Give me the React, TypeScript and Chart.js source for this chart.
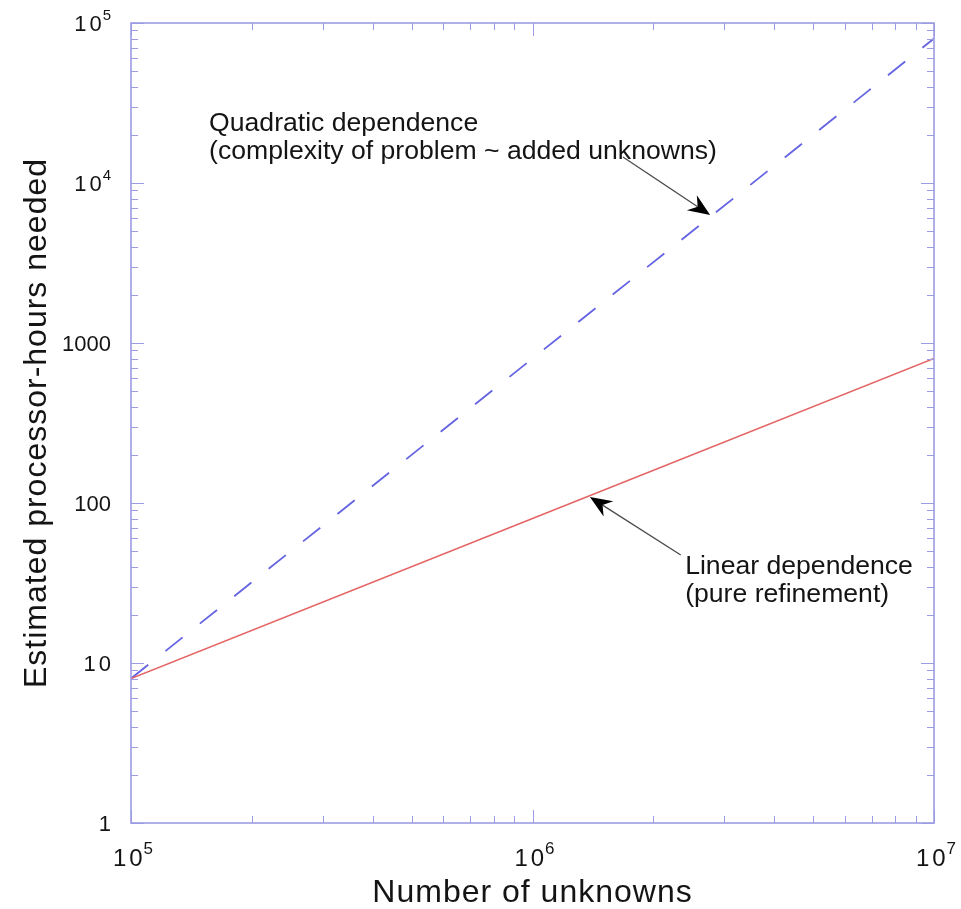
import React, { useEffect, useRef } from 'react';
import { Chart, registerables } from 'chart.js';

Chart.register(...registerables);

// ---- data ----
const unknowns = [1e5, 1e6, 1e7];
const linearHours = [8, 80, 800];
const quadraticHours = [8, 800, 80000];

const xMajorTicks = [1e5, 1e6, 1e7];
const xTickBase = ['10', '10', '10'];
const xTickSup = ['5', '6', '7'];
const yMajorTicks = [1, 10, 100, 1000, 1e4, 1e5];
const yTickBase = ['1', '10', '100', '1000', '10', '10'];
const yTickSup = ['', '', '', '', '4', '5'];

const xTitle = 'Number of unknowns';
const yTitle = 'Estimated processor-hours needed';

const quadLabelLines = ['Quadratic dependence', '(complexity of problem ~ added unknowns)'];
const quadLabelAt = [1.565e5, 21000];
const quadArrowFrom = [1.68e6, 14540];
const quadArrowTo = [2.77e6, 6310];

const linLabelLines = ['Linear dependence', '(pure refinement)'];
const linLabelAt = [2.4e6, 36];
const linArrowFrom = [2.34e6, 47.3];
const linArrowTo = [1.39e6, 109];

// ---- styles ----
const FONT = '"Liberation Sans", Arial, Helvetica, sans-serif';
const AXIS_COLOR = '#9c9ce4';
const TEXT_COLOR = '#141414';

function minorOf(majors: number[]) {
  const out: number[] = [];
  for (let i = 0; i < majors.length - 1; i++) {
    for (let m = 2; m <= 9; m++) out.push(majors[i] * m);
  }
  return out;
}

function drawLabel(ctx: any, base: string, sup: string, x: number, y: number, align: 'right' | 'center', size: number) {
  ctx.save();
  ctx.fillStyle = TEXT_COLOR;
  ctx.textBaseline = 'alphabetic';
  ctx.textAlign = 'left';
  const spacing = base === '10' ? 3 : 0;
  ctx.font = `${size}px ${FONT}`;
  (ctx as any).letterSpacing = spacing + 'px';
  const bw = ctx.measureText(base).width - spacing;
  const supSize = Math.round(size * 0.7);
  ctx.font = `${supSize}px ${FONT}`;
  (ctx as any).letterSpacing = '0px';
  const sw = sup ? ctx.measureText(sup).width + 1 : 0;
  const total = bw + sw;
  const x0 = align === 'right' ? x - total : x - total / 2;
  ctx.font = `${size}px ${FONT}`;
  (ctx as any).letterSpacing = spacing + 'px';
  ctx.fillText(base, x0, y);
  if (sup) {
    ctx.font = `${supSize}px ${FONT}`;
    (ctx as any).letterSpacing = '0px';
    ctx.fillText(sup, x0 + bw + 1, y - size * 0.52);
  }
  ctx.restore();
}

function drawArrow(ctx: any, x1: number, y1: number, x2: number, y2: number) {
  const dx = x2 - x1, dy = y2 - y1;
  const len = Math.hypot(dx, dy);
  const ux = dx / len, uy = dy / len;
  const nx = -uy, ny = ux;
  const L = 22, W = 9, notch = 7;
  ctx.save();
  ctx.strokeStyle = '#4a4a4a';
  ctx.lineWidth = 1.3;
  ctx.beginPath();
  ctx.moveTo(x1, y1);
  ctx.lineTo(x2 - ux * (L - notch), y2 - uy * (L - notch));
  ctx.stroke();
  ctx.fillStyle = '#000';
  ctx.beginPath();
  ctx.moveTo(x2, y2);
  ctx.lineTo(x2 - ux * L + nx * W, y2 - uy * L + ny * W);
  ctx.lineTo(x2 - ux * (L - notch), y2 - uy * (L - notch));
  ctx.lineTo(x2 - ux * L - nx * W, y2 - uy * L - ny * W);
  ctx.closePath();
  ctx.fill();
  ctx.restore();
}

const decorPlugin = {
  id: 'decor',
  afterDatasetsDraw(chart: any) {
    const { ctx, chartArea: a, scales } = chart;
    const xs = scales.x, ys = scales.y;
    const MAJ = 13, MIN = 7;
    ctx.save();
    ctx.strokeStyle = AXIS_COLOR;
    ctx.lineWidth = 1;
    const seg = (x1: number, y1: number, x2: number, y2: number) => {
      ctx.beginPath(); ctx.moveTo(x1, y1); ctx.lineTo(x2, y2); ctx.stroke();
    };
    xMajorTicks.forEach(v => {
      const p = Math.round(xs.getPixelForValue(v)) + 0.5;
      seg(p, a.bottom, p, a.bottom - MAJ); seg(p, a.top, p, a.top + MAJ);
    });
    minorOf(xMajorTicks).forEach(v => {
      const p = Math.round(xs.getPixelForValue(v)) + 0.5;
      seg(p, a.bottom, p, a.bottom - MIN); seg(p, a.top, p, a.top + MIN);
    });
    yMajorTicks.forEach(v => {
      const p = Math.round(ys.getPixelForValue(v)) + 0.5;
      seg(a.left, p, a.left + MAJ, p); seg(a.right, p, a.right - MAJ, p);
    });
    minorOf(yMajorTicks).forEach(v => {
      const p = Math.round(ys.getPixelForValue(v)) + 0.5;
      seg(a.left, p, a.left + MIN, p); seg(a.right, p, a.right - MIN, p);
    });
    ctx.lineWidth = 1.6;
    ctx.strokeRect(a.left, a.top, a.right - a.left, a.bottom - a.top);
    ctx.restore();
  },
  afterDraw(chart: any) {
    const { ctx, chartArea: a, scales } = chart;
    const xs = scales.x, ys = scales.y;
    // tick labels
    yMajorTicks.forEach((v, i) => {
      const p = ys.getPixelForValue(v);
      drawLabel(ctx, yTickBase[i], yTickSup[i], a.left - 20, p + 8, 'right', 22);
    });
    xMajorTicks.forEach((v, i) => {
      const p = xs.getPixelForValue(v);
      drawLabel(ctx, xTickBase[i], xTickSup[i], p + 2, a.bottom + 43, 'center', 24);
    });
    // axis titles
    ctx.save();
    ctx.fillStyle = TEXT_COLOR;
    ctx.font = `32px ${FONT}`;
    (ctx as any).letterSpacing = '1px';
    ctx.textAlign = 'center';
    ctx.textBaseline = 'alphabetic';
    ctx.fillText(xTitle, (a.left + a.right) / 2, a.bottom + 79);
    ctx.translate(46, (a.top + a.bottom) / 2);
    ctx.rotate(-Math.PI / 2);
    ctx.fillText(yTitle, 0, 0);
    ctx.restore();
    // annotations
    ctx.save();
    ctx.fillStyle = TEXT_COLOR;
    ctx.font = `26.6px ${FONT}`;
    ctx.textAlign = 'left';
    ctx.textBaseline = 'alphabetic';
    const qx = xs.getPixelForValue(quadLabelAt[0]), qy = ys.getPixelForValue(quadLabelAt[1]);
    quadLabelLines.forEach((t, i) => ctx.fillText(t, qx, qy + i * 28));
    const lx = xs.getPixelForValue(linLabelAt[0]), ly = ys.getPixelForValue(linLabelAt[1]);
    linLabelLines.forEach((t, i) => ctx.fillText(t, lx, ly + i * 28));
    ctx.restore();
    drawArrow(ctx,
      xs.getPixelForValue(quadArrowFrom[0]), ys.getPixelForValue(quadArrowFrom[1]),
      xs.getPixelForValue(quadArrowTo[0]), ys.getPixelForValue(quadArrowTo[1]));
    drawArrow(ctx,
      xs.getPixelForValue(linArrowFrom[0]), ys.getPixelForValue(linArrowFrom[1]),
      xs.getPixelForValue(linArrowTo[0]), ys.getPixelForValue(linArrowTo[1]));
  },
};

export default function App() {
  const ref = useRef<HTMLCanvasElement | null>(null);
  useEffect(() => {
    if (!ref.current) return;
    const chart = new Chart(ref.current, {
      type: 'line',
      data: {
        datasets: [
          {
            label: 'Linear dependence',
            data: unknowns.map((x, i) => ({ x, y: linearHours[i] })),
            borderColor: 'rgb(228,100,100)',
            borderWidth: 1.5,
            pointRadius: 0,
            fill: false,
          },
          {
            label: 'Quadratic dependence',
            data: unknowns.map((x, i) => ({ x, y: quadraticHours[i] })),
            borderColor: 'rgb(100,100,226)',
            borderWidth: 1.8,
            borderDash: [22, 22],
            pointRadius: 0,
            fill: false,
          },
        ],
      },
      options: {
        animation: false,
        responsive: false,
        maintainAspectRatio: false,
        layout: { padding: { left: 131, right: 27, top: 23, bottom: 86 } },
        scales: {
          x: { type: 'logarithmic', min: 1e5, max: 1e7, display: false },
          y: { type: 'logarithmic', min: 1, max: 1e5, display: false },
        },
        plugins: { legend: { display: false }, tooltip: { enabled: false } },
      },
      plugins: [decorPlugin],
    } as any);
    return () => chart.destroy();
  }, []);
  return (
    <div style={{ position: 'absolute', left: 0, top: 0, width: 961, height: 909, background: '#fff' }}>
      <canvas ref={ref} width={961} height={909} style={{ display: 'block' }} />
    </div>
  );
}
